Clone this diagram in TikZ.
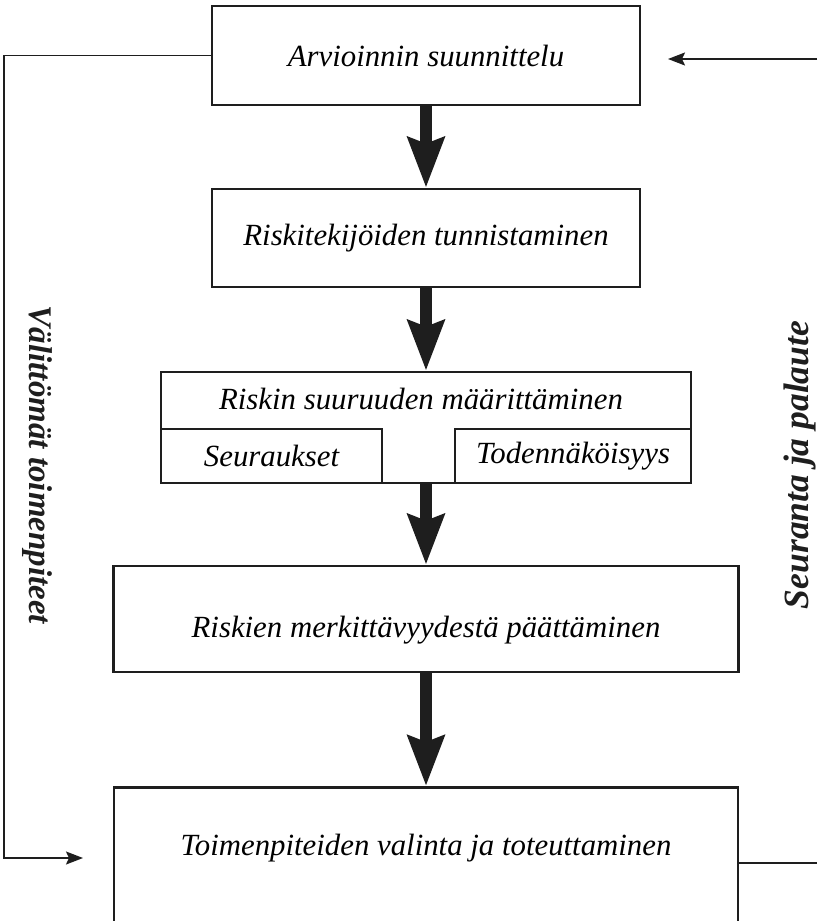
\documentclass[tikz,border=0pt]{standalone}
\usepackage{fontspec}
\setmainfont{Liberation Serif}
\usetikzlibrary{arrows.meta,positioning}
\definecolor{diagInk}{RGB}{30,30,30}

\begin{document}
\begin{tikzpicture}[x=1pt,y=-1pt,
    box/.style={draw=diagInk,line width=2.6pt,inner sep=0pt,font=\fontsize{30.8}{36}\selectfont\itshape},
    boxtext/.style={font=\fontsize{30.8}{36}\selectfont\itshape},
    side/.style={font=\fontsize{33}{40}\selectfont\bfseries\itshape,text=diagInk},
    bigarrow/.style={draw=diagInk,line width=12pt,-{Stealth[length=50pt,width=36pt,inset=6pt]}},
    flow/.style={draw=diagInk,line width=1.6pt,-{Stealth[length=17pt,width=13pt,inset=3pt]}}]
    \useasboundingbox (0,0) rectangle (817,921);
    % boxes
    \node[box,minimum width=428,minimum height=99] (plan) at (426,55.5) {Arvioinnin suunnittelu};
    \node[box,minimum width=428,minimum height=98] (ident) at (426,238) {Riskitekijöiden tunnistaminen};
    \node[box,minimum width=530,minimum height=111] (size) at (426,427.5) {};
    \node[boxtext] (sizetitle) at (421,399) {Riskin suuruuden määrittäminen};
    \node[box,minimum width=221,minimum height=54] (conseq) at (271.5,456) {Seuraukset};
    \node[box,minimum width=236,minimum height=54] (prob) at (573,456) {Todennäköisyys};
    \node[box,minimum width=625,minimum height=106] (decide) at (426,619) {};
    \node[boxtext] (decidetext) at (426,630) {Riskien merkittävyydestä päättäminen};
    \node[box,minimum width=624,minimum height=200,anchor=north] (act) at (426,786) {};
    \node[boxtext] (acttext) at (426,848) {Toimenpiteiden valinta ja toteuttaminen};
    % main flow
    \draw[bigarrow] (plan.south) -- (ident.north);
    \draw[bigarrow] (ident.south) -- (size.north);
    \draw[bigarrow] (size.south) -- (decide.north);
    \draw[bigarrow] (decide.south) -- (act.north);
    % side loops
    \coordinate (fbin) at (817,59);
    \coordinate (fbtip) at (668,59);
    \coordinate (fbout) at (817,863);
    \coordinate (imtip) at (83,858);
    \draw[flow] (fbin) -- (fbtip);
    \draw[draw=diagInk,line width=1.6pt] (act.east |- fbout) -- (fbout);
    \draw[flow] (plan.west) -- ++(-207,0) |- (imtip);
    % labels
    \node[side,rotate=-90] (immediate) at (37,465) {Välittömät toimenpiteet};
    \node[side,rotate=90,font=\fontsize{35.5}{42}\selectfont\bfseries\itshape] (followup) at (800,465) {Seuranta ja palaute};
\end{tikzpicture}
\end{document}
